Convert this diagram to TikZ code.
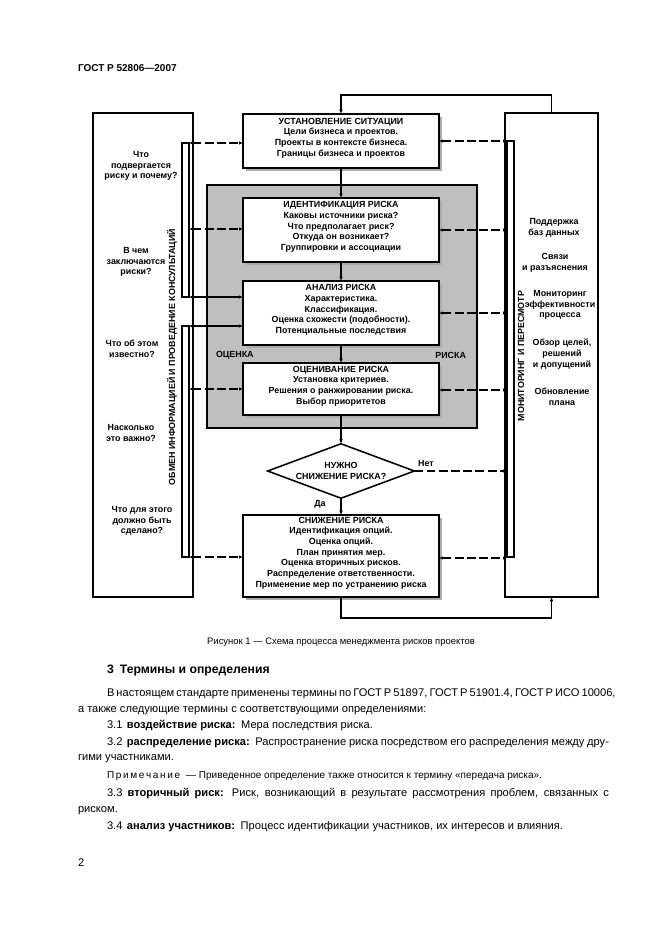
\documentclass[tikz,border=0pt]{standalone}
\usepackage{fontspec}
\setmainfont{Liberation Sans}
\usetikzlibrary{arrows.meta, shapes.geometric, shadows, fit}

\newcommand{\dfont}{\fontsize{8}{9.6}\selectfont\bfseries}
\newcommand{\bodyfont}{\fontsize{10}{12}\selectfont}

\begin{document}
\begin{tikzpicture}
  [
    x = 0.9pt, y = -0.9pt, thick,
    every node/.style = {inner sep=0pt, outer sep=0pt},
    stagebox/.style = {draw, line width=1.4pt, fill=white, align=center, font=\dfont,
      drop shadow = {shadow xshift=3pt, shadow yshift=-3pt, fill=gray!65, opacity=1}},
    panel/.style = {draw, line width=1.4pt},
    bar/.style = {draw, line width=1.1pt},
    note/.style = {align=center, font=\dfont},
    flow/.style = {line width=1.1pt, -{Latex[length=4pt, width=3.5pt]}},
    link/.style = {line width=1.1pt, dash pattern=on 8pt off 3pt,
      {Latex[length=3.5pt, width=3pt]}-{Latex[length=3.5pt, width=3pt]}},
    slink/.style = {link, solid},
    body/.style = {anchor=base west, font=\bodyfont}
  ]
  \useasboundingbox (0,0) rectangle (661,935);

  \node [anchor=base west, font=\fontsize{9}{11}\selectfont\bfseries] (head) at (78,71) {ГОСТ Р 52806—2007};

  % side panels
  \node [panel, fit={(93,113) (193,597)}] (talk) {};
  \node [panel, fit={(505,113) (598,597)}] (watch) {};
  \node [bar, fit={(182,143) (189,297)}] (askA) {};
  \node [bar, fit={(182,326) (189,557)}] (askB) {};
  \node [bar, fit={(507,141) (514,557)}] (track) {};
  \node [note, rotate=90] (talklabel) at (172,357) {ОБМЕН ИНФОРМАЦИЕЙ И ПРОВЕДЕНИЕ КОНСУЛЬТАЦИЙ};
  \node [note, rotate=90] (tracklabel) at (521,356) {МОНИТОРИНГ И ПЕРЕСМОТР};

  % questions on the left
  \node [note] (q1) at (141,166) {Что\\подвергается\\риску и почему?};
  \node [note] (q2) at (136,262) {В чем\\заключаются\\риски?};
  \node [note] (q3) at (132,349) {Что об этом\\известно?};
  \node [note] (q4) at (131,433) {Насколько\\это важно?};
  \node [note] (q5) at (142,521) {Что для этого\\должно быть\\сделано?};

  % tasks on the right
  \node [note] (t1) at (554,228) {Поддержка\\баз данных};
  \node [note] (t2) at (555,263) {Связи\\и разъяснения};
  \node [note] (t3) at (560,305) {Мониторинг\\эффективности\\процесса};
  \node [note] (t4) at (562,354) {Обзор целей,\\решений\\и допущений};
  \node [note] (t5) at (562,397) {Обновление\\плана};

  % assessment area
  \node [draw, line width=1.4pt, fill=gray!50, fit={(207,185) (477,428)}] (assess) {};
  \node [note, anchor=west] (assessL) at (216,355) {ОЦЕНКА};
  \node [note, anchor=east] (assessR) at (466,355) {РИСКА};

  % stages
  \node [stagebox, fit={(243,114) (439,168)}] (setup)
    {УСТАНОВЛЕНИЕ СИТУАЦИИ\\Цели бизнеса и проектов.\\Проекты в контексте бизнеса.\\Границы бизнеса и проектов};
  \node [stagebox, fit={(243,198) (439,262)}] (ident)
    {ИДЕНТИФИКАЦИЯ РИСКА\\Каковы источники риска?\\Что предполагает риск?\\Откуда он возникает?\\Группировки и ассоциации};
  \node [stagebox, fit={(243,281) (439,345)}] (analysis)
    {АНАЛИЗ РИСКА\\Характеристика.\\Классификация.\\Оценка схожести (подобности).\\Потенциальные последствия};
  \node [stagebox, fit={(243,363) (439,415)}] (rate)
    {ОЦЕНИВАНИЕ РИСКА\\Установка критериев.\\Решения о ранжировании риска.\\Выбор приоритетов};
  \node [draw, diamond, aspect=2.8, line width=1.4pt, fill=white, align=center, font=\dfont,
    minimum width=132pt, minimum height=49pt] (need) at (341,471) {НУЖНО\\СНИЖЕНИЕ РИСКА?};
  \node [stagebox, fit={(243,515) (439,597)}] (treat)
    {СНИЖЕНИЕ РИСКА\\Идентификация опций.\\Оценка опций.\\План принятия мер.\\Оценка вторичных рисков.\\Распределение ответственности.\\Применение мер по устранению риска};
  \node [note] (no) at (426,463) {Нет};
  \node [note] (yes) at (320,504) {Да};

  % main flow
  \draw [flow] (watch.north) -- ++(0,-18) -| (setup.north);
  \draw [flow] (setup.south) -- (ident.north);
  \draw [flow] (ident.south) -- (analysis.north);
  \draw [flow] (analysis.south) -- (rate.north);
  \draw [flow] (rate.south) -- (need.north);
  \draw [flow] (need.south) -- (treat.north);
  \draw [flow] (treat.south) -- ++(0,21) -| (watch.south);

  % exchange links
  \foreach \b/\s/\y in {askA/setup/143, askA/ident/229, askB/rate/389, askB/treat/557}
    \draw [link] (\b.east |- 0,\y) -- (\s.west |- 0,\y);
  \draw [slink] (askA.east |- 0,297) -- (analysis.west |- 0,297);
  \draw [slink] (askB.east |- 0,326) -- (analysis.west |- 0,326);
  \foreach \s/\y in {setup/141, ident/230, analysis/313, rate/390, treat/558}
    \draw [link] (\s.east |- 0,\y) -- (track.west |- 0,\y);
  \draw [link, -{Latex[length=3.5pt, width=3pt]}] (need.east) -- (track.west |- need.east);

  % text under the figure
  \node [anchor=base, font=\fontsize{8.5}{10}\selectfont] (caption) at (341,644)
    {Рисунок 1 — Схема процесса менеджмента рисков проектов};
  \node [anchor=base west, font=\fontsize{11}{13}\selectfont\bfseries] (sect) at (107,673)
    {3\hspace{0.5em}Термины и определения};
  \node [body] (l1) at (107,696) {\makebox[451.8pt][s]{В настоящем стандарте применены термины по ГОСТ Р 51897, ГОСТ Р 51901.4, ГОСТ Р ИСО 10006,}};
  \node [body] (l2) at (78,712) {а также следующие термины с соответствующими определениями:};
  \node [body] (l3) at (107,728) {3.1\hspace{0.4em}\textbf{воздействие риска:}\hspace{0.5em}Мера последствия риска.};
  \node [body] (l4) at (107,745) {\makebox[451.8pt][s]{3.2\hspace{0.4em}\textbf{распределение риска:}\hspace{0.5em}Распространение риска посредством его распределения между дру-}};
  \node [body] (l5) at (78,760) {гими участниками.};
  \node [body, font=\fontsize{9}{11}\selectfont] (l6) at (107,778)
    {П\,р\,и\,м\,е\,ч\,а\,н\,и\,е\hspace{0.6em}— Приведенное определение также относится к термину «передача риска».};
  \node [body] (l7) at (107,796) {\makebox[451.8pt][s]{3.3 \textbf{вторичный риск:} Риск, возникающий в результате рассмотрения проблем, связанных с}};
  \node [body] (l8) at (78,812) {риском.};
  \node [body] (l9) at (107,829) {3.4\hspace{0.4em}\textbf{анализ участников:}\hspace{0.5em}Процесс идентификации участников, их интересов и влияния.};
  \node [body] (page) at (78,866) {2};
\end{tikzpicture}
\end{document}
